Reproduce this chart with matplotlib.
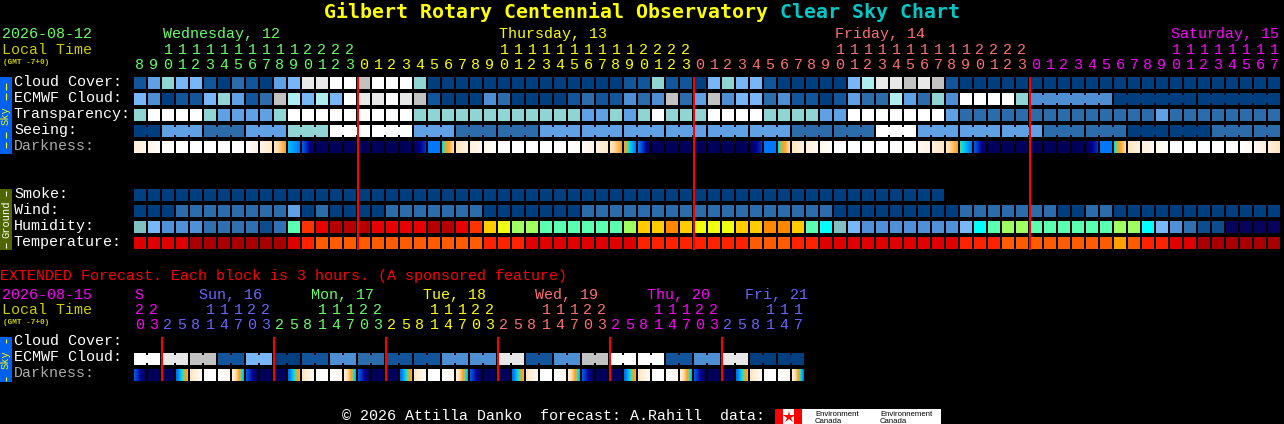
import numpy as np
import matplotlib as mpl

mpl.use('agg')

import matplotlib.pyplot as plt
from matplotlib.colors import LinearSegmentedColormap

# ---- data ----

# hourly columns
hours = [8, 9, 10, 11, 12, 13, 14, 15, 16, 17, 18, 19, 20, 21, 22, 23] + list(range(24)) * 2 + list(range(18))
hour_colors = ['#66ff66'] * 16 + ['#ffff00'] * 24 + ['#ff7070'] * 24 + ['#ff00ff'] * 18
day_names = ['Wednesday, 12', 'Thursday, 13', 'Friday, 14', 'Saturday, 15']
day_cols = [2, 26, 50, 74]
day_colors = ['#66ff66', '#ffff00', '#ff7070', '#ff00ff']
midnights = [16, 40, 64]

# 0 clear ... 10 overcast
cloud_cover = [1, 4, 6, 5, 5, 1, 0, 2, 1, 0, 4, 5, 9, 9, 10, 10, 8, 10, 10, 10, 6,
               0, 0, 0, 0, 0, 0, 0, 0, 0, 0, 0, 0, 0, 0, 1, 1, 6, 1, 1, 0, 5, 6, 5, 5, 1, 0, 0, 0, 0, 0, 5,
               7, 9, 9, 8, 9, 8, 1,
               0, 0, 0, 0, 0, 0, 0, 0, 0, 0, 0, 0, 0, 0, 0, 0, 0, 0, 0, 0, 0, 0, 0]
ecmwf_cloud = [5, 3, 0, 1, 1, 5, 6, 4, 1, 2, 8, 7, 5, 7, 5, 10, 9, 9, 10, 9, 8,
               1, 0, 0, 0, 3, 2, 0, 0, 0, 0, 1, 2, 1, 1, 3, 2, 3, 8, 2, 4, 8, 3, 5, 5, 2, 3, 1, 1, 0, 1, 4,
               2, 2, 7, 4, 2, 6, 3, 10, 10, 10, 10, 6,
               3, 3, 3, 3, 3, 3, 0, 0, 0, 0, 0, 0, 0, 0, 0, 0, 0, 0]
ecmwf_blocks = [(64, 6), (70, 6), (76, 6)]
transparency = [6, 10, 10, 10, 10, 6, 4, 4, 4, 4, 6, 10, 10, 10, 10, 10, 10, 10, 10, 10, 6,
                6, 6, 6, 6, 6, 6, 6, 6, 6, 6, 6, 4, 4, 6, 4, 6, 10, 6, 6, 6, 10, 10, 10, 10, 6, 6, 6, 6, 4, 4, 10,
                10, 10, 10, 10, 10, 10, 4, 2, 2, 2, 2, 2, 2, 2, 2, 2, 2, 2, 2, 2, 2, 4, 2, 2, 2, 2, 2, 2, 2, 2]
seeing_3h = [0, 4, 2, 4, 6, 10, 10, 4, 2, 2, 4, 4, 4, 4, 4, 4, 2, 2, 10, 4, 4, 4, 2, 2, 0, 0, 2, 2]
seeing_len = [2] + [3] * 26 + [2]
dark_start = [1.0, .6, .1, 0, 0, 0, 0, 0, .2, .8, 1.5, 4.3, 5.5, 8, 8, 8, 8, 8, 8, 8, 8, 5, 4, 1.5, 1, .5,
              0, 0, 0, 0, 0, 0, .3, 1, 1.6, 3.2, 5, 8, 8, 8, 8, 8, 8, 8, 8, 5, 4, 1.5, 1, .5,
              0, 0, 0, 0, 0, 0, .5, 1, 1.7, 3.8, 5.5, 8, 8, 8, 8, 8, 8, 8, 8, 5, 4, 1.5, 1, .5,
              0, 0, 0, 0, 0, 0, .4, 1]
dark_end = [.6, .1, 0, 0, 0, 0, 0, .1, .8, 1.4, 3, 5, 7.8, 8, 8, 8, 8, 8, 8, 8, 6.2, 5, 2, 1, .5, .1,
            0, 0, 0, 0, 0, .2, .8, 1.4, 3, 5, 7.8, 8, 8, 8, 8, 8, 8, 8, 6.2, 5, 2, 1, .5, .1,
            0, 0, 0, 0, 0, .3, .9, 1.5, 3, 5, 7.8, 8, 8, 8, 8, 8, 8, 8, 6.2, 5, 2, 1, .5, .1,
            0, 0, 0, 0, 0, .4, 1, 1.6]

smoke = [0] * 58
wind = [0, 0, 0, 2, 2, 2, 2, 2, 2, 2, 2, 4, 0, 2, 0, 0, 0, 0, 2, 2, 2,
        2, 2, 2, 2, 0, 0, 0, 0, 0, 0, 0, 2, 2, 2, 2, 2, 2, 2, 2, 2, 2, 2, 2, 2, 2, 2, 2, 2, 2, 0, 0,
        0, 0, 0, 0, 0, 0, 0, 2, 2, 2, 2, 2, 2, 2, 0, 0, 2, 2, 0, 0, 0, 0, 0, 0, 0, 0, 0, 0, 0, 0]
humidity = [5, 4, 3, 3, 3, 2, 2, 2, 2, 1, 2, 7, 12, 13, 14, 14, 14, 13, 13, 13, 13,
            14, 14, 13, 12, 10, 9, 8, 8, 7, 7, 7, 7, 7, 7, 8, 10, 10, 11, 10, 9, 9, 9, 10, 10, 11, 11, 10, 7, 6, 5, 4,
            3, 3, 3, 3, 3, 3, 3, 4, 6, 7, 8, 8, 7, 7, 7, 7, 7, 7, 8, 8, 6, 4, 3, 2, 1, 1, 0, 0, 0, 0]
temperature = [1, 1, 1, 1, 0, 0, 0, 0, 0, 0, 0, 1, 2, 3, 3, 3, 3, 3, 3, 3, 3,
               3, 3, 3, 3, 2, 2, 2, 1, 1, 1, 1, 1, 1, 1, 1, 2, 2, 2, 2, 2, 2, 2, 2, 3, 3, 3, 2, 2, 1, 1, 1,
               1, 1, 1, 1, 1, 1, 1, 2, 2, 2, 3, 3, 3, 3, 3, 3, 3, 3, 4, 3, 2, 2, 1, 1, 0, 0, 0, 0, 0, 0]

# extended forecast, 3 hour columns
ext_hours = [20, 23] + [2, 5, 8, 11, 14, 17, 20, 23] * 5 + [2, 5, 8, 11, 14, 17]
ext_colors = ['#ff00ff'] * 2 + ['#6666ff'] * 8 + ['#66ff66'] * 8 + ['#ffff00'] * 8 + ['#ff7070'] * 8 + ['#ff00ff'] * 8 + ['#6666ff'] * 6
ext_days = ['S', 'Sun, 16', 'Mon, 17', 'Tue, 18', 'Wed, 19', 'Thu, 20', 'Fri, 21']
ext_day_cols = [0, 5, 13, 21, 29, 37, 44]
ext_day_colors = ['#ff00ff', '#6666ff', '#66ff66', '#ffff00', '#ff7070', '#ff00ff', '#6666ff']
ext_midnights = [2, 10, 18, 26, 34, 42]
ext_cloud = [10, 9, 8, 1, 5, 0, 1, 3, 2, 1, 1, 3, 3, 9, 1, 3, 8, 10, 10, 1, 3, 9, 0, 0]
ext_dark_start = [5.6, 8, 8, 5.2, 1.5, 0, 0, 1] * 6
ext_dark_end = [8, 8, 8, 2.8, .3, 0, .6, 4.4] * 5 + [8, 8, 8, 2.8, .3, 0, .6, 5]

# ---- colours ----
sky_colors = {0: '#003f7f', 1: '#13559a', 2: '#2c6cab', 3: '#4e8ed2', 4: '#60a0e4', 5: '#78b6f8',
              6: '#90d4d4', 7: '#aeeeee', 8: '#c2c2c2', 9: '#e8e8e8', 10: '#ffffff'}
hum_colors = ['#08035d', '#0d4d8d', '#3070b0', '#5090d8', '#78b8f8', '#80c0c0', '#00ffff', '#5affb0',
              '#a0ff60', '#f0ff10', '#ffcc00', '#ff8800', '#ff3300', '#e90000', '#b60000']
temp_colors = ['#a80000', '#e10000', '#ff2200', '#ff5c00', '#ffa000']
dark_cmap = LinearSegmentedColormap.from_list('darkness', [
    (0 / 8, '#ffffff'), (1 / 8, '#fff0dc'), (2 / 8, '#ffdca8'), (3 / 8, '#ffa020'), (3.6 / 8, '#a0c060'),
    (4 / 8, '#00e0e0'), (4.5 / 8, '#00a8ff'), (5 / 8, '#0078f8'), (6 / 8, '#0040d0'), (7 / 8, '#000090'),
    (8 / 8, '#00005c')], N=512)

mono = 'Liberation Mono'
X0 = 134
STEP = 14
CELL = 12

fig = plt.figure(figsize=(12.84, 4.24), dpi=100, facecolor='black')
ax = fig.add_axes([0, 0, 1, 1])
ax.set_facecolor('black')
ax.axis('off')


def label(x, y, s, color='white', size=10.8, **kw):
    kw.setdefault('ha', 'left')
    ax.text(x, y, s, color=color, fontsize=size, family=mono, va='baseline', **kw)


def cells(y, values, palette):
    xs = X0 + STEP * np.arange(len(values))
    cols = [palette[v] for v in values]
    ax.bar(xs, CELL, width=CELL, bottom=y, color=cols, align='edge', linewidth=0, antialiased=False)


def bridge(y, first, count, color):
    # narrower bar across the gaps of a multi-hour block
    ax.bar(X0 + STEP * first, CELL - 4, width=STEP * count - (STEP - CELL), bottom=y + 2, color=color,
           align='edge', linewidth=0, antialiased=False)


def gradient_cells(y, start, end):
    for i, (a, b) in enumerate(zip(start, end)):
        x = X0 + STEP * i
        ax.imshow(np.linspace(a, b, CELL)[None, :], extent=(x, x + CELL, y + CELL, y), cmap=dark_cmap,
                  vmin=0, vmax=8, aspect='auto', interpolation='nearest')


def midnight_lines(cols, y0, y1):
    xs = [X0 + STEP * m - 1 for m in cols]
    ax.bar(xs, y1 - y0, width=2, bottom=y0, color='#ff0000', align='edge', linewidth=0, antialiased=False)


def hour_header(y_tens, y_units, hrs, colors):
    for i, (h, c) in enumerate(zip(hrs, colors)):
        xc = X0 + STEP * i + 6
        if h >= 10:
            label(xc, y_tens, str(h // 10), c, ha='center')
        label(xc, y_units, str(h % 10), c, ha='center')


def side_bar(y0, y1, color, text, text_color, dashes):
    ax.bar(0, y1 - y0, width=12, bottom=y0, color=color, align='edge', linewidth=0, antialiased=False)
    ax.text(6, (y0 + y1) / 2, text, color=text_color, fontsize=7.5, family=mono, rotation=90,
            ha='center', va='center')
    for d0, d1 in dashes:
        ax.vlines(6, d0, d1, color=text_color, linewidth=0.8)


# title
ax.text(324, 18, 'Gilbert Rotary Centennial Observatory', color='#ffff00', fontsize=14.35,
        family='DejaVu Sans Mono', weight='bold', ha='left', va='baseline')
ax.text(780, 18, 'Clear Sky Chart', color='#00c8c8', fontsize=14.35, family='DejaVu Sans Mono', weight='bold',
        ha='left', va='baseline')

# header of the hourly part
label(2, 38, '2026-08-12', '#66ff66')
label(2, 54, 'Local Time', '#cccc00')
label(3, 64, '(GMT -7+0)', '#cccc00', size=5.6, weight='bold')
for name, col, c in zip(day_names, day_cols, day_colors):
    label(X0 + STEP * col + 1, 38, name, c)
hour_header(54, 69, hours, hour_colors)

# sky rows
row_y = {'Cloud Cover:': 77, 'ECMWF Cloud:': 93, 'Transparency:': 109, 'Seeing:': 125, 'Darkness:': 141,
         'Smoke:': 189, 'Wind:': 205, 'Humidity:': 221, 'Temperature:': 237}
for name, y in row_y.items():
    label(14, y + 9, name, '#aaaaaa' if name == 'Darkness:' else 'white')

cells(row_y['Cloud Cover:'], cloud_cover, sky_colors)
cells(row_y['ECMWF Cloud:'], ecmwf_cloud, sky_colors)
for first, count in ecmwf_blocks:
    bridge(row_y['ECMWF Cloud:'], first, count, sky_colors[ecmwf_cloud[first]])
cells(row_y['Transparency:'], transparency, sky_colors)

seeing = np.repeat(seeing_3h, seeing_len).tolist()
cells(row_y['Seeing:'], seeing, sky_colors)
first = 0
for v, n in zip(seeing_3h, seeing_len):
    bridge(row_y['Seeing:'], first, n, sky_colors[v])
    first += n
gradient_cells(row_y['Darkness:'], dark_start, dark_end)

# ground rows
cells(row_y['Smoke:'], smoke, sky_colors)
cells(row_y['Wind:'], wind, sky_colors)
cells(row_y['Humidity:'], humidity, hum_colors)
cells(row_y['Temperature:'], temperature, temp_colors)

midnight_lines(midnights, 77, 250)

side_bar(77, 154, '#0060f0', 'Sky', '#ffff00', [(83, 90), (93, 100), (132, 138), (142, 148)])
side_bar(189, 250, '#4f6600', 'Ground', 'white', [(191, 196), (243, 248)])

# extended forecast
label(0, 280, 'EXTENDED Forecast. Each block is 3 hours. (A sponsored feature)', '#ff0000')
label(2, 299, '2026-08-15', '#ff00ff')
label(2, 314, 'Local Time', '#cccc00')
label(3, 324, '(GMT -7+0)', '#cccc00', size=5.6, weight='bold')
for name, col, c in zip(ext_days, ext_day_cols, ext_day_colors):
    label(X0 + STEP * col - (5 if col else 0), 299, name, c)
hour_header(314, 329, ext_hours, ext_colors)

label(14, 345, 'Cloud Cover:')
label(14, 361, 'ECMWF Cloud:')
label(14, 377, 'Darkness:', '#aaaaaa')

ext_cloud_cols = np.repeat(ext_cloud, 2).tolist()
cells(353, ext_cloud_cols, sky_colors)
for k, v in enumerate(ext_cloud):
    bridge(353, 2 * k, 2, sky_colors[v])
gradient_cells(369, ext_dark_start, ext_dark_end)
midnight_lines(ext_midnights, 337, 381)
side_bar(337, 382, '#0060f0', 'Sky', '#ffff00', [(339, 343), (377, 381)])

# footer
label(342, 420, '\u00a9 2026 Attilla Danko  forecast: A.Rahill  data:', 'white')
ax.bar(775, 15, width=166, bottom=409, color='white', align='edge', linewidth=0, antialiased=False)
ax.bar([775, 794], 15, width=8, bottom=409, color='#ff0000', align='edge', linewidth=0, antialiased=False)
ax.plot([788.5], [416.5], marker='*', markersize=9, color='#ff0000', markeredgewidth=0)
for x, s in [(815, 'Environment'), (880, 'Environnement')]:
    ax.text(x, 416, s, color='black', fontsize=5.6, family='Liberation Sans', ha='left', va='baseline')
    ax.text(x, 423, 'Canada', color='black', fontsize=5.6, family='Liberation Sans', ha='left', va='baseline')

ax.set_xlim(0, 1284)
ax.set_ylim(424, 0)

fig.savefig('out.png', dpi=100, facecolor='black')
